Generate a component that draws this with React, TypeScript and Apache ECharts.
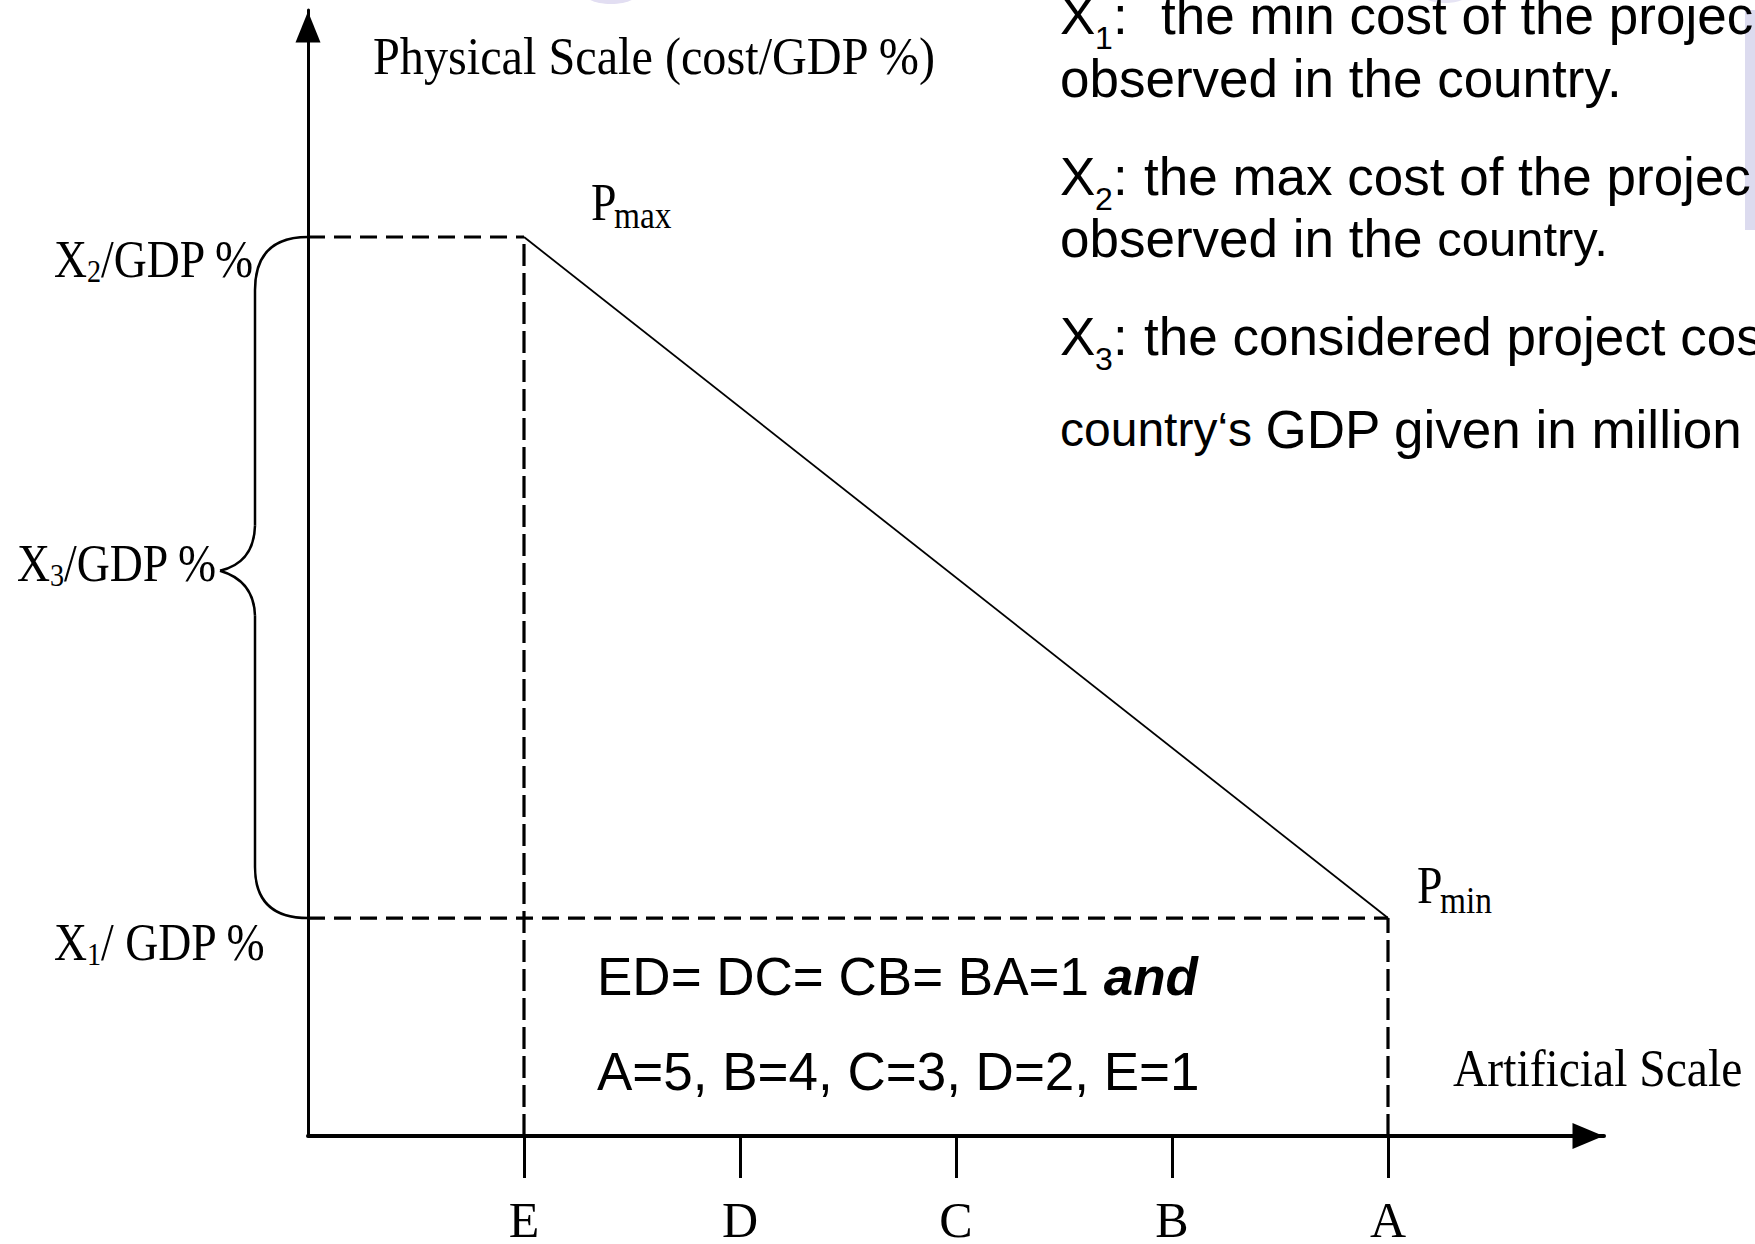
import React, { useEffect, useRef } from 'react';
import * as echarts from 'echarts';

// ---- data ----
const scaleLetters = ['E', 'D', 'C', 'B', 'A'];
const scalePositions = [1, 2, 3, 4, 5];
const X1_LEVEL = 1; // X1 / GDP %  (Pmin level)
const X2_LEVEL = 4; // X2 / GDP %  (Pmax level)
const X3_LEVEL = 2.53; // X3 / GDP % (brace point)
const pMax = [1, X2_LEVEL];
const pMin = [5, X1_LEVEL];
const axisFloor = 0.04;
const axisTop = 5;
const xMax = 6;

const yAxisTitle = 'Physical Scale (cost/GDP %)';
const xAxisTitle = 'Artificial Scale';
const yLabelParts = [
  { sym: 'X', sub: '2', rest: '/GDP %' },
  { sym: 'X', sub: '3', rest: '/GDP %' },
  { sym: 'X', sub: '1', rest: '/ GDP %' },
];
const defLines = [
  { sym: 'X', sub: '1', colon: ':', rest: 'the min cost of the projec' },
  { plain: 'observed in the ', small: 'country.', smallSize: 53 },
  { sym: 'X', sub: '2', colon: ':', rest: 'the max cost of the projec' },
  { plain: 'observed in the ', small: 'country.', smallSize: 49 },
  { sym: 'X', sub: '3', colon: ':', rest: 'the considered project cos' },
  { small: 'country‘s ', plain: 'GDP given in million', smallSize: 48 },
];
const noteLine1 = 'ED= DC= CB= BA=1 ';
const noteLine1Bold = 'and';
const noteLine2 = 'A=5, B=4, C=3, D=2, E=1';

const SANS = '"Liberation Sans", Arial, Helvetica, sans-serif';
const SERIF = '"Liberation Serif", "Times New Roman", serif';

function textAt(x: number, baseline: number, text: string, family: string, size: number, sx = 1, extra: any = {}) {
  const k = family === SANS ? 0.3465 : 0.3375;
  return {
    type: 'text',
    x,
    y: baseline - k * size,
    scaleX: sx,
    silent: true,
    z: 10,
    style: {
      text,
      fontFamily: family,
      fontSize: size,
      fill: '#000',
      align: 'left',
      verticalAlign: 'middle',
      textAlign: 'left',
      textVerticalAlign: 'middle',
      ...extra,
    },
  };
}

const lineSeries = (name: string, data: number[][], width: number, dash: any) => ({
  name,
  type: 'line',
  data,
  symbol: 'none',
  showSymbol: false,
  silent: true,
  clip: false,
  lineStyle: { color: '#000', width, type: dash },
  z: 5,
});

export default function App() {
  const ref = useRef<HTMLDivElement>(null);
  useEffect(() => {
    document.body.style.margin = '0';
    const el = ref.current!;
    const chart = echarts.init(el, null, { renderer: 'svg' });
    const option: any = {
      animation: false,
      backgroundColor: '#ffffff',
      grid: { left: 308, right: 151, top: 10, bottom: 108, containLabel: false, outerBoundsMode: 'none' },
      xAxis: {
        type: 'value',
        min: 0,
        max: xMax,
        interval: 1,
        axisLine: {
          show: true,
          onZero: false,
          symbol: ['none', 'triangle'],
          symbolSize: [26, 31],
          symbolOffset: [0, -16],
          lineStyle: { color: '#000', width: 4 },
        },
        axisTick: { show: true, inside: false, length: 42, customValues: scalePositions, lineStyle: { color: '#000', width: 3 } },
        axisLabel: {
          show: true,
          customValues: scalePositions,
          formatter: (v: number) => {
            const i = scalePositions.indexOf(v);
            return i >= 0 ? scaleLetters[i] : '';
          },
          margin: 59,
          fontFamily: SERIF,
          fontSize: 50,
          lineHeight: 50,
          color: '#000',
        },
        splitLine: { show: false },
      },
      yAxis: {
        type: 'value',
        min: axisFloor,
        max: axisTop,
        axisLine: {
          show: true,
          onZero: false,
          symbol: ['none', 'triangle'],
          symbolSize: [25, 31],
          symbolOffset: [0, -17],
          lineStyle: { color: '#000', width: 3 },
        },
        axisTick: { show: false },
        axisLabel: { show: false },
        splitLine: { show: false },
      },
      series: [
        lineSeries('cost line', [pMax, pMin], 1.8, 'solid'),
        lineSeries('X2 level', [[0, X2_LEVEL], pMax], 3.2, [17, 9]),
        lineSeries('X1 level', [[0, X1_LEVEL], pMin], 3.2, [17, 9]),
        lineSeries('E', [[pMax[0], axisFloor], pMax], 3.2, [22, 7]),
        lineSeries('A', [[pMin[0], axisFloor], pMin], 3.2, [22, 7]),
      ],
    };
    chart.setOption(option);

    const px = (x: number, y: number) => chart.convertToPixel({ gridIndex: 0 }, [x, y]) as number[];
    const [axX, yTop] = px(0, X2_LEVEL);
    const [, yBot] = px(0, X1_LEVEL);
    const [, yMid] = px(0, X3_LEVEL);
    const [pmx, pmy] = px(pMax[0], pMax[1]);
    const [pnx, pny] = px(pMin[0], pMin[1]);

    const g: any[] = [];
    // decorative lavender marks
    g.push({ type: 'rect', silent: true, z: 1, shape: { x: 1745, y: 10, width: 12, height: 220 }, style: { fill: '#dcdbef' } });
    g.push({ type: 'ellipse', silent: true, z: 1, shape: { cx: 611, cy: -6, rx: 26, ry: 10 }, style: { fill: '#e2def2' } });
    g.push({ type: 'ellipse', silent: true, z: 1, shape: { cx: 1445, cy: -7, rx: 24, ry: 10 }, style: { fill: '#e6e4f4' } });

    // brace
    const bx = axX - 53;
    const cx = axX - 88;
    const bs = { stroke: '#000', lineWidth: 2.5, fill: 'none' };
    g.push({ type: 'bezierCurve', silent: true, z: 6, shape: { x1: axX, y1: yTop, cpx1: bx, cpy1: yTop, x2: bx, y2: yTop + 53 }, style: bs });
    g.push({ type: 'line', silent: true, z: 6, shape: { x1: bx, y1: yTop + 53, x2: bx, y2: yMid - 45 }, style: bs });
    g.push({ type: 'bezierCurve', silent: true, z: 6, shape: { x1: bx, y1: yMid - 45, cpx1: bx - 1, cpy1: yMid - 8, x2: cx, y2: yMid }, style: bs });
    g.push({ type: 'bezierCurve', silent: true, z: 6, shape: { x1: cx, y1: yMid, cpx1: bx - 1, cpy1: yMid + 10, x2: bx, y2: yMid + 45 }, style: bs });
    g.push({ type: 'line', silent: true, z: 6, shape: { x1: bx, y1: yMid + 45, x2: bx, y2: yBot - 51 }, style: bs });
    g.push({ type: 'bezierCurve', silent: true, z: 6, shape: { x1: bx, y1: yBot - 51, cpx1: bx, cpy1: yBot, x2: axX, y2: yBot }, style: bs });

    // serif labels
    const SX = 0.88;
    const serifLabel = (x: number, base: number, p: any) => {
      g.push(textAt(x, base, p.sym, SERIF, 52, SX));
      g.push(textAt(x + 33, base + 5, p.sub, SERIF, 32, SX));
      g.push(textAt(x + 47, base, p.rest, SERIF, 52, SX));
    };
    serifLabel(54, yTop + 40, yLabelParts[0]);
    serifLabel(17, yMid + 10, yLabelParts[1]);
    serifLabel(54, yBot + 42, yLabelParts[2]);

    g.push(textAt(373, 74, yAxisTitle, SERIF, 53, 0.91));
    g.push(textAt(1453, 1086, xAxisTitle, SERIF, 52, 0.915));

    // P max / P min
    g.push(textAt(pmx + 67, pmy - 17, 'P', SERIF, 52, SX));
    g.push(textAt(pmx + 90, pmy - 9, 'max', SERIF, 38, SX));
    g.push(textAt(pnx + 29, pny - 15, 'P', SERIF, 52, SX));
    g.push(textAt(pnx + 52, pny - 5, 'min', SERIF, 38, SX));

    // definitions (right)
    const baselines = [34, 97, 195, 257, 355, 448];
    defLines.forEach((d: any, i) => {
      const b = baselines[i];
      if (d.sym) {
        g.push(textAt(1060, b, d.sym, SANS, 53));
        g.push(textAt(1095, b + 15, d.sub, SANS, 32));
        g.push(textAt(1113, b, d.colon, SANS, 53));
        g.push(textAt(i === 0 ? 1161 : 1144, b, d.rest, SANS, 53));
      } else {
        const text = i === 5 ? `{s|${d.small}}{p|${d.plain}}` : `{p|${d.plain}}{s|${d.small}}`;
        g.push(
          textAt(1060, b, text, SANS, 53, 1, {
            rich: {
              p: { fontFamily: SANS, fontSize: 53, fill: '#000' },
              s: { fontFamily: SANS, fontSize: d.smallSize, fill: '#000' },
            },
          })
        );
      }
    });

    // notes inside chart
    g.push(
      textAt(597, 995, `{n|${noteLine1}}{b|${noteLine1Bold}}`, SANS, 53, 1, {
        rich: {
          n: { fontFamily: SANS, fontSize: 53, fill: '#000' },
          b: { fontFamily: SANS, fontSize: 53, fontWeight: 'bold', fontStyle: 'italic', fill: '#000' },
        },
      })
    );
    g.push(textAt(597, 1090, noteLine2, SANS, 53));

    chart.setOption({ graphic: { elements: g } });
    return () => chart.dispose();
  }, []);
  return <div ref={ref} style={{ width: 1755, height: 1244, overflow: 'hidden' }} />;
}
